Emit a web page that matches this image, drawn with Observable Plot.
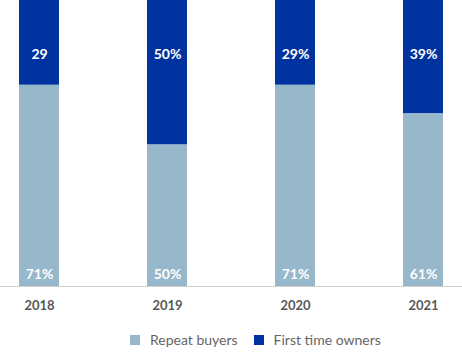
<!DOCTYPE html>
<html>
<head>
<meta charset="utf-8">
<script src="https://cdn.jsdelivr.net/npm/d3@7"></script>
<script src="https://cdn.jsdelivr.net/npm/@observablehq/plot@0.6"></script>
<style>
  body { margin: 0; background: #fff; font-family: Lato, sans-serif; }
  #legend { display: flex; align-items: center; height: 32px; box-sizing: border-box; padding-left: 130px; padding-top: 3px; font-size: 14px; color: #666; }
  .sw { width: 10px; height: 10px; display: inline-block; margin-right: 10px; }
  .item { display: flex; align-items: center; margin-right: 16px; }
</style>
</head>
<body>
<div id="chart"></div>
<div id="legend"></div>
<script>
const years = ["2018", "2019", "2020", "2021"];
const repeatBuyers = [71, 50, 71, 61];
const firstTimeOwners = [29, 50, 29, 39];
const topLabels = ["29", "50%", "29%", "39%"];
const bottomLabels = ["71%", "50%", "71%", "61%"];
const seriesNames = ["Repeat buyers", "First time owners"];
const colors = ["#97b8ca", "#0033a0"];

const rows = years.map((y, i) => ({
  year: y,
  r: repeatBuyers[i],
  f: firstTimeOwners[i],
  total: repeatBuyers[i] + firstTimeOwners[i],
  top: topLabels[i],
  bottom: bottomLabels[i]
}));

const chart = Plot.plot({
  width: 462,
  height: 322,
  marginTop: 2.5,
  marginBottom: 36,
  marginLeft: 0,
  marginRight: 0,
  style: { fontFamily: "Lato, sans-serif", background: "#fff" },
  x: { domain: years, paddingInner: 0.69, paddingOuter: 0.136, label: null, tickSize: 0, tickPadding: 14 },
  y: { domain: [0, 100], axis: null },
  marks: [
    Plot.barY(rows, { x: "year", y1: 0, y2: "r", fill: colors[0] }),
    Plot.barY(rows, { x: "year", y1: "r", y2: "total", fill: colors[1], insetTop: -3 }),
    Plot.ruleY([0], { stroke: "#d0d0d0", strokeWidth: 1 }),
    Plot.text(rows, { x: "year", text: "top", frameAnchor: "top", dy: 46, fill: "#fff", fontSize: 14, fontWeight: 700 }),
    Plot.text(rows, { x: "year", text: "bottom", frameAnchor: "bottom", dy: -8, fill: "#fff", fontSize: 14, fontWeight: 700 }),
    Plot.axisX({ tickSize: 0, tickPadding: 14, fontSize: 13, fontWeight: 700, color: "#595959", label: null })
  ]
});
document.getElementById("chart").appendChild(chart);

const legend = document.getElementById("legend");
seriesNames.forEach((name, i) => {
  const item = document.createElement("span");
  item.className = "item";
  const sw = document.createElement("span");
  sw.className = "sw";
  sw.style.background = colors[i];
  item.appendChild(sw);
  item.appendChild(document.createTextNode(name));
  legend.appendChild(item);
});
</script>
</body>
</html>
